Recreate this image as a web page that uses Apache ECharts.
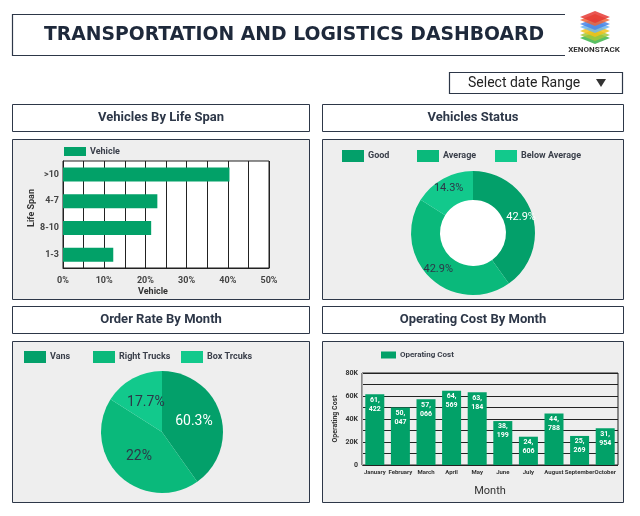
<!DOCTYPE html>
<html>
<head>
<meta charset="utf-8">
<script src="https://cdn.jsdelivr.net/npm/echarts@6/dist/echarts.min.js"></script>
<style>
html,body{margin:0;padding:0;background:#fff;}
#main{width:640px;height:516px;}
</style>
</head>
<body>
<div id="main"></div>
<script>
// ---- data ----
var lifeCategories = ['>10', '4-7', '8-10', '1-3'];
var lifeValues = [40.4, 22.9, 21.4, 12.2];
var lifeTicks = ['0%', '10%', '20%', '30%', '40%', '50%'];

var statusNames = ['Good', 'Average', 'Below Average'];
var statusShares = [40.2, 43.8, 16.0];        // slice sizes as drawn
var statusLabels = ['42.9%', '42.9%', '14.3%']; // printed labels

var orderNames = ['Vans', 'Right Trucks', 'Box Trcuks'];
var orderShares = [40.2, 43.8, 16.0];           // slice sizes as drawn
var orderLabels = ['60.3%', '22%', '17.7%'];    // printed labels

var months = ['January', 'February', 'March', 'April', 'May', 'June', 'July', 'August', 'September', 'October'];
var operatingCost = [61422, 50047, 57066, 64569, 63184, 38199, 24606, 44788, 25269, 31954];
var costTicks = ['0', '20K', '40K', '60K', '80K'];

// ---- style ----
var FONT = 'Roboto';
var DARK = '#2d3748';
var greens = ['#03a06a', '#0ab97b', '#12c98c'];
var barGreen = '#02a168';

function boxRect(x, y, w, h, fill) {
  return { type: 'rect', z: -10, shape: { x: x, y: y, width: w, height: h },
    style: { fill: fill, stroke: DARK, lineWidth: 1 } };
}
function headText(x, y, t) {
  return { type: 'text', z: -5, x: x, y: y,
    style: { text: t, fill: DARK, font: 'bold 13px ' + FONT, textAlign: 'center', textVerticalAlign: 'middle' } };
}
function layer(cx, cy, color) {
  var w = 15, h = 6;
  return { type: 'polygon', z: -5, shape: { points: [[cx - w, cy], [cx, cy - h], [cx + w, cy], [cx, cy + h]] },
    style: { fill: color, opacity: 0.85 } };
}

var graphics = [
  { type: 'polyline', shape: { points: [[565, 14.5], [12.5, 14.5], [12.5, 55.5], [565, 55.5]] },
    style: { stroke: DARK, lineWidth: 1.2, fill: null } },
  { type: 'text', x: 294, y: 35, style: { text: 'TRANSPORTATION AND LOGISTICS DASHBOARD', fill: '#1e293b',
      font: 'bold 18.8px "DejaVu Sans"', textAlign: 'center', textVerticalAlign: 'middle' } },
  layer(595, 38, '#3cb54a'), layer(595, 35, '#a5c93a'), layer(595, 31, '#f2c21b'),
  layer(595, 27, '#6fb6ef'), layer(595, 24, '#4a86e8'), layer(595, 20, '#f0663a'), layer(595, 17, '#e53935'),
  { type: 'text', x: 594, y: 50, style: { text: 'XENONSTACK', fill: '#333', font: 'bold 8px ' + FONT,
      textAlign: 'center', textVerticalAlign: 'middle' } },
  { type: 'rect', shape: { x: 449.5, y: 72.5, width: 173, height: 21 }, style: { fill: '#fff', stroke: DARK, lineWidth: 1.2 } },
  { type: 'text', x: 468, y: 83, style: { text: 'Select date Range', fill: '#222', font: '14px ' + FONT,
      textAlign: 'left', textVerticalAlign: 'middle' } },
  { type: 'polygon', shape: { points: [[596, 79], [606, 79], [601, 87]] }, style: { fill: '#333' } },

  boxRect(12.5, 104.5, 297, 27, '#fff'), headText(161, 118, 'Vehicles By Life Span'),
  boxRect(322.5, 104.5, 301, 27, '#fff'), headText(473, 118, 'Vehicles Status'),
  boxRect(12.5, 306.5, 297, 27, '#fff'), headText(161, 320, 'Order Rate By Month'),
  boxRect(322.5, 306.5, 301, 27, '#fff'), headText(473, 320, 'Operating Cost By Month'),

  boxRect(12.5, 139.5, 297, 160, '#eeeeee'),
  boxRect(322.5, 139.5, 301, 160, '#eeeeee'),
  boxRect(12.5, 341.5, 297, 161, '#eeeeee'),
  boxRect(322.5, 341.5, 301, 161, '#eeeeee'),
  // white plot background of the life-span chart, same layer as the panels
  { type: 'rect', z: -10, shape: { x: 63, y: 161, width: 206, height: 107 }, style: { fill: '#fff' } },
  { type: 'circle', z: -5, shape: { cx: 473, cy: 233, r: 34 }, style: { fill: '#fff' } }
];

function legendItem(left, top, name, w, h, fs) {
  return { left: left, top: top, padding: 0, itemWidth: w, itemHeight: h, itemGap: 4, icon: 'rect',
    data: [name], textStyle: { fontSize: fs, fontWeight: 'bold', color: '#3a3f4a', padding: [0, 0, 0, -1] } };
}

var legends = [legendItem(64, 147, 'Vehicle', 22, 9, 9), legendItem(381, 351, 'Operating Cost', 15, 7, 8)];
var statusLeft = [342, 417, 495];
statusNames.forEach(function (n, i) { legends.push(legendItem(statusLeft[i], 150, n, 22, 12, 9)); });
var orderLeft = [24, 93, 181];
orderNames.forEach(function (n, i) { legends.push(legendItem(orderLeft[i], 351, n, 22, 12, 9)); });

var chart = echarts.init(document.getElementById('main'));
chart.setOption({
  animation: false,
  textStyle: { fontFamily: FONT },
  graphic: graphics,
  legend: legends,
  grid: [
    { left: 63, right: 371, top: 161, bottom: 248, show: true, backgroundColor: 'transparent',
      borderColor: '#222', borderWidth: 1 },
    { left: 362, right: 22, top: 373, bottom: 51, show: true, backgroundColor: 'transparent',
      borderColor: '#222', borderWidth: 1 }
  ],
  xAxis: [
    { gridIndex: 0, type: 'value', min: 0, max: 50, interval: 5,
      axisLine: { show: true, lineStyle: { color: '#222' } }, axisTick: { show: false },
      splitLine: { show: true, lineStyle: { color: '#222', width: 1 } },
      axisLabel: { fontSize: 9, fontWeight: 'bold', color: '#444', margin: 8,
        formatter: function (v) { return v % 10 === 0 ? lifeTicks[v / 10] : ''; } },
      name: 'Vehicle', nameLocation: 'middle', nameGap: 19,
      nameTextStyle: { fontSize: 9, fontWeight: 'bold', color: '#333', padding: [0, 26, 0, 0] } },
    { gridIndex: 1, type: 'category', data: months,
      axisLine: { show: false }, axisTick: { show: false },
      axisLabel: { fontSize: 6, fontWeight: 'bold', color: '#333', margin: 4, interval: 0 },
      name: 'Month', nameLocation: 'middle', nameGap: 21,
      nameTextStyle: { fontSize: 11, color: '#333' } }
  ],
  yAxis: [
    { gridIndex: 0, type: 'category', data: lifeCategories, inverse: true,
      axisLine: { show: true, lineStyle: { color: '#222' } }, axisTick: { show: false }, splitLine: { show: false },
      axisLabel: { fontSize: 9, fontWeight: 'bold', color: '#444', margin: 4 },
      name: 'Life Span', nameLocation: 'middle', nameGap: 23, nameRotate: 90,
      nameTextStyle: { fontSize: 9, fontWeight: 'bold', color: '#333', padding: [0, 0, 0, 13] } },
    { gridIndex: 1, type: 'value', min: 0, max: 80000, interval: 10000,
      axisLine: { show: true, lineStyle: { color: '#aaa' } }, axisTick: { show: false },
      splitLine: { show: true, lineStyle: { color: '#222', width: 1 } },
      axisLabel: { fontSize: 7, fontWeight: 'bold', color: '#333', margin: 4,
        formatter: function (v) { return v % 20000 === 0 ? costTicks[v / 20000] : ''; } },
      name: 'Operating Cost', nameLocation: 'middle', nameGap: 23, nameRotate: 90,
      nameTextStyle: { fontSize: 7, fontWeight: 'bold', color: '#333' } }
  ],
  series: [
    { type: 'bar', name: 'Vehicle', xAxisIndex: 0, yAxisIndex: 0, data: lifeValues,
      barWidth: 14, itemStyle: { color: barGreen }, z: 3 },
    { type: 'pie', name: 'Status', center: [473, 233], radius: [33, 62], startAngle: 90,
      clockwise: true, avoidLabelOverlap: false,
      data: statusNames.map(function (n, i) {
        return { name: n, value: statusShares[i], itemStyle: { color: greens[i] },
          label: { color: i === 0 ? '#fff' : '#2d3748' } };
      }),
      label: { show: true, position: 'inside', fontSize: 11,
        formatter: function (p) { return statusLabels[p.dataIndex]; } },
      labelLine: { show: false }, emphasis: { disabled: true } },
    { type: 'pie', name: 'Order', center: [162, 432], radius: [0, 61], startAngle: 90,
      clockwise: true, avoidLabelOverlap: false,
      data: orderNames.map(function (n, i) {
        return { name: n, value: orderShares[i], itemStyle: { color: greens[i] },
          label: { color: i === 0 ? '#fff' : '#2d3748' } };
      }),
      label: { show: true, position: 'inside', fontSize: 14,
        formatter: function (p) { return orderLabels[p.dataIndex]; } },
      labelLine: { show: false }, emphasis: { disabled: true } },
    { type: 'bar', name: 'Operating Cost', xAxisIndex: 1, yAxisIndex: 1, data: operatingCost,
      barWidth: 19, itemStyle: { color: barGreen }, z: 3,
      label: { show: true, position: 'insideTop', distance: 1, color: '#fff', fontSize: 7,
        fontWeight: 'bold', lineHeight: 9,
        formatter: function (p) {
          var v = p.value, k = Math.floor(v / 1000), r = String(v % 1000);
          while (r.length < 3) r = '0' + r;
          return k + ',\n' + r;
        } } }
  ]
});
</script>
</body>
</html>
